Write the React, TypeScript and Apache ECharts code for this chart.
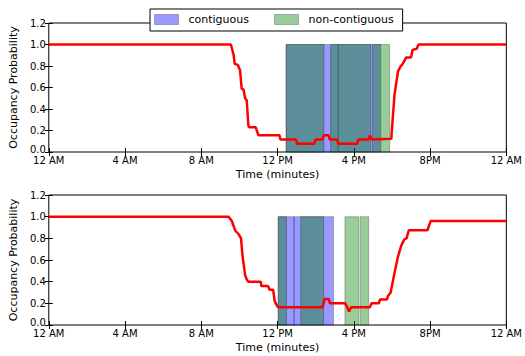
import React, { useEffect, useRef } from "react";
import * as echarts from "echarts";

const tickLabels = ["12 AM", "4 AM", "8 AM", "12 PM", "4 PM", "8PM", "12 AM"];

const topTimes = [0, 573, 582, 585, 595, 602, 607, 613, 618, 623, 628, 630, 651, 660, 726, 729, 778, 781, 835, 840, 861, 866, 881, 884, 907, 911, 971, 974, 1006, 1011, 1016, 1078, 1081, 1088, 1094, 1099, 1106, 1114, 1125, 1140, 1145, 1158, 1164, 1440];
const topProb = [1.0, 1.0, 0.9, 0.82, 0.81, 0.76, 0.59, 0.58, 0.5, 0.48, 0.255, 0.23, 0.23, 0.155, 0.155, 0.117, 0.117, 0.077, 0.077, 0.117, 0.117, 0.155, 0.155, 0.117, 0.117, 0.077, 0.077, 0.117, 0.117, 0.155, 0.117, 0.123, 0.25, 0.53, 0.65, 0.75, 0.79, 0.82, 0.88, 0.88, 0.95, 0.96, 1.0, 1.0];

const bottomTimes = [0, 566, 576, 582, 587, 597, 605, 610, 618, 623, 628, 667, 669, 690, 695, 706, 711, 716, 721, 862, 868, 881, 885, 933, 940, 945, 952, 1011, 1016, 1039, 1042, 1064, 1068, 1076, 1088, 1099, 1109, 1119, 1126, 1133, 1192, 1197, 1202, 1440];
const bottomProb = [1.0, 1.0, 0.96, 0.91, 0.87, 0.84, 0.8, 0.63, 0.46, 0.42, 0.4, 0.4, 0.36, 0.36, 0.325, 0.325, 0.22, 0.19, 0.165, 0.165, 0.24, 0.24, 0.2, 0.2, 0.16, 0.125, 0.165, 0.165, 0.2, 0.2, 0.235, 0.235, 0.27, 0.3, 0.48, 0.63, 0.73, 0.79, 0.8, 0.875, 0.875, 0.92, 0.96, 0.96];

const bandTop = 1.0;
const topContiguous = [[747, 911], [911, 1045]];
const topNonContiguous = [[747, 866], [887, 1013], [1019, 1073]];
const bottomContiguous = [[722, 772], [772, 896]];
const bottomNonContiguous = [[722, 748], [793, 865], [932, 976], [980, 1007]];

const BLUE = "rgba(0,0,255,0.4)";
const GREEN = "rgba(0,128,0,0.4)";
const EDGE = "rgba(0,0,0,0.25)";
const FONT = "DejaVu Sans";

function bandSeries(name: string, intervals: number[][], color: string, gi: number) {
  return {
    type: "custom",
    name,
    xAxisIndex: gi * 2,
    yAxisIndex: gi * 2,
    z: 2,
    itemStyle: { color, borderColor: EDGE, borderWidth: 1 },
    encode: { x: [0, 1], y: 2 },
    data: intervals.map((iv) => [iv[0], iv[1], bandTop]),
    renderItem: (params: any, api: any) => {
      const s = api.coord([api.value(0), 0]);
      const e = api.coord([api.value(1), api.value(2)]);
      return {
        type: "rect",
        shape: { x: s[0], y: e[1], width: e[0] - s[0], height: s[1] - e[1] },
        style: { fill: color, stroke: EDGE, lineWidth: 1 },
      };
    },
  };
}

function lineSeries(times: number[], probs: number[], gi: number) {
  return {
    type: "line",
    name: "prob" + gi,
    xAxisIndex: gi * 2,
    yAxisIndex: gi * 2,
    z: 5,
    showSymbol: false,
    symbol: "none",
    lineStyle: { color: "#ff0000", width: 2.5 },
    itemStyle: { color: "#ff0000" },
    data: times.map((t, i) => [t, probs[i]]),
  };
}

function xAxes(gi: number) {
  const bottom = {
    type: "value",
    gridIndex: gi,
    min: 0,
    max: 1440,
    interval: 240,
    position: "bottom",
    name: "Time (minutes)",
    nameLocation: "middle",
    nameGap: 17,
    nameTextStyle: { fontFamily: FONT, fontSize: 11, color: "#000", verticalAlign: "top" },
    axisLine: { show: false },
    axisTick: { show: true, inside: true, length: 4, lineStyle: { color: "#000" } },
    axisLabel: {
      show: true,
      margin: 3,
      lineHeight: 10,
      fontFamily: FONT,
      fontSize: 10,
      color: "#000",
      showMinLabel: true,
      showMaxLabel: true,
      formatter: (v: number) => tickLabels[Math.round(v / 240)] ?? "",
    },
    splitLine: { show: false },
  };
  const top = {
    type: "value",
    gridIndex: gi,
    min: 0,
    max: 1440,
    interval: 240,
    position: "top",
    axisLine: { show: false },
    axisTick: { show: true, inside: true, length: 4, lineStyle: { color: "#000" } },
    axisLabel: { show: false },
    splitLine: { show: false },
  };
  return [bottom, top];
}

function yAxes(gi: number) {
  const left = {
    type: "value",
    gridIndex: gi,
    min: 0,
    max: 1.2,
    interval: 0.2,
    position: "left",
    name: "Occupancy Probability",
    nameLocation: "middle",
    nameGap: 24,
    nameTextStyle: { fontFamily: FONT, fontSize: 11, color: "#000" },
    axisLine: { show: false },
    axisTick: { show: true, inside: true, length: 4, lineStyle: { color: "#000" } },
    axisLabel: {
      margin: 3,
      lineHeight: 8,
      fontFamily: FONT,
      fontSize: 10,
      color: "#000",
      formatter: (v: number) => (v === 0 ? "{low|" + v.toFixed(1) + "}" : v.toFixed(1)),
      rich: {
        low: { fontFamily: FONT, fontSize: 10, color: "#000", lineHeight: 8, padding: [0, 0, 6, 0] },
      },
    },
    splitLine: { show: false },
  };
  const right = {
    type: "value",
    gridIndex: gi,
    min: 0,
    max: 1.2,
    interval: 0.2,
    position: "right",
    axisLine: { show: false },
    axisTick: { show: true, inside: true, length: 4, lineStyle: { color: "#000" } },
    axisLabel: { show: false },
    splitLine: { show: false },
  };
  return [left, right];
}

export default function App() {
  const ref = useRef<HTMLDivElement>(null);
  useEffect(() => {
    if (!ref.current) return;
    const chart = echarts.init(ref.current, null, { renderer: "svg" });
    chart.setOption({
      animation: false,
      backgroundColor: "#fff",
      grid: [
        { left: 44, top: 23, width: 464, height: 129, show: true, borderColor: "#000", borderWidth: 1, backgroundColor: "transparent" },
        { left: 44, top: 195, width: 464, height: 130, show: true, borderColor: "#000", borderWidth: 1, backgroundColor: "transparent" },
      ],
      legend: {
        data: [
          { name: "contiguous", icon: "rect", itemStyle: { color: BLUE, borderColor: EDGE, borderWidth: 1 } },
          { name: "non-contiguous", icon: "rect", itemStyle: { color: GREEN, borderColor: EDGE, borderWidth: 1 } },
        ],
        left: 150,
        top: 9,
        padding: [5, 9, 6, 4],
        itemWidth: 24,
        itemHeight: 10,
        itemGap: 25,
        backgroundColor: "#fff",
        borderColor: "#000",
        borderWidth: 1,
        borderRadius: 0,
        z: 10,
        textStyle: { fontFamily: FONT, fontSize: 11, color: "#000", padding: [0, 0, 0, 5] },
        selectedMode: false,
      },
      xAxis: [...xAxes(0), ...xAxes(1)],
      yAxis: [...yAxes(0), ...yAxes(1)],
      series: [
        bandSeries("contiguous", topContiguous, BLUE, 0),
        bandSeries("non-contiguous", topNonContiguous, GREEN, 0),
        lineSeries(topTimes, topProb, 0),
        bandSeries("contiguous", bottomContiguous, BLUE, 1),
        bandSeries("non-contiguous", bottomNonContiguous, GREEN, 1),
        lineSeries(bottomTimes, bottomProb, 1),
      ],
    });
    return () => chart.dispose();
  }, []);
  return (
    <div
      ref={ref}
      style={{ position: "fixed", left: 0, top: 0, width: 525, height: 356, background: "#fff" }}
    />
  );
}
